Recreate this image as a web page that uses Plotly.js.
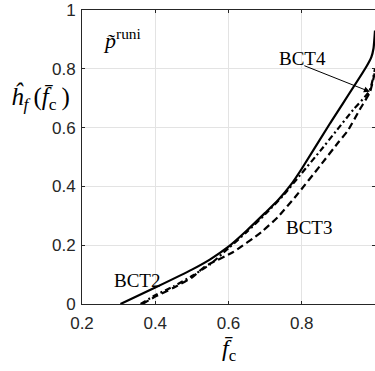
<!DOCTYPE html>
<html>
<head>
<meta charset="utf-8">
<script src="https://cdn.plot.ly/plotly-3.0.1.min.js"></script>
<style>html,body{margin:0;padding:0;background:#fff;}#chart{width:375px;height:371px;}</style>
</head>
<body>
<div id="chart"></div>
<script>
// BCT2 (solid)
const bct2F = [0.305, 0.4, 0.5, 0.55, 0.6, 0.65, 0.7, 0.735, 0.77, 0.8, 0.877, 0.973, 0.99, 0.996, 1.0];
const bct2H = [0.0, 0.056, 0.117, 0.152, 0.195, 0.25, 0.31, 0.353, 0.405, 0.46, 0.614, 0.8, 0.84, 0.87, 0.93];
// BCT3 (dashed)
const bct3F = [0.365, 0.4, 0.45, 0.5, 0.536, 0.612, 0.69, 0.735, 0.786, 0.85, 0.9, 0.926, 0.96, 0.986, 1.0];
const bct3H = [0.0, 0.025, 0.055, 0.09, 0.128, 0.176, 0.245, 0.296, 0.37, 0.47, 0.55, 0.59, 0.665, 0.72, 0.79];
// BCT4 (dash-dot)
const bct4F = [0.36, 0.4, 0.45, 0.5, 0.55, 0.6, 0.65, 0.7, 0.75, 0.8, 0.85, 0.895, 0.94, 0.985, 1.0];
const bct4H = [0.0, 0.03, 0.06, 0.095, 0.135, 0.19, 0.245, 0.305, 0.37, 0.445, 0.52, 0.59, 0.66, 0.725, 0.8];

const xTicks = [0.2, 0.4, 0.6, 0.8, 1];
const xTickText = ['0.2', '0.4', '0.6', '0.8', '1'];
const yTicks = [0, 0.2, 0.4, 0.6, 0.8, 1];
const yTickText = ['0', '0.2', '0.4', '0.6', '0.8', '1'];

const ink = '#262626';
const traces = [
  {x: bct2F, y: bct2H, mode: 'lines', line: {color: '#000', width: 2.2, shape: 'spline', smoothing: 0.5}},
  {x: bct3F, y: bct3H, mode: 'lines', line: {color: '#000', width: 2.2, dash: '7px,4px', shape: 'spline', smoothing: 0.5}},
  {x: bct4F, y: bct4H, mode: 'lines', line: {color: '#000', width: 2.2, dash: '6px,3px,2px,3px', shape: 'spline', smoothing: 0.5}}
];

const serif = 'Liberation Serif, Times New Roman, serif';
const axisCommon = {
  showline: true, linecolor: ink, linewidth: 1, mirror: 'ticks',
  ticks: 'inside', ticklen: 3, tickcolor: ink,
  showgrid: true, gridcolor: '#e3e3e3', gridwidth: 1,
  zeroline: false,
  tickfont: {family: 'Liberation Sans, Arial, sans-serif', size: 17, color: ink}
};

const layout = {
  width: 375, height: 371,
  margin: {l: 82, r: 0, t: 10, b: 67},
  paper_bgcolor: '#fff', plot_bgcolor: '#fff',
  showlegend: false,
  xaxis: Object.assign({}, axisCommon, {range: [0.2, 1], tickvals: xTicks, ticktext: xTickText, ticklabelstandoff: 4}),
  yaxis: Object.assign({}, axisCommon, {range: [0, 1], tickvals: yTicks, ticktext: yTickText, ticklabelstandoff: 2}),
  annotations: [
    {xref: 'x', yref: 'y', x: 0.986, y: 0.722, axref: 'x', ayref: 'y', ax: 0.803, ay: 0.8126,
     text: '', showarrow: true, arrowhead: 2, arrowsize: 1.2, arrowwidth: 1, arrowcolor: '#000'},
    {xref: 'x', yref: 'y', x: 0.803, y: 0.836, text: 'BCT4', showarrow: false,
     xanchor: 'center', yanchor: 'middle', font: {family: serif, size: 19, color: '#000'}},
    {xref: 'x', yref: 'y', x: 0.82, y: 0.26, text: 'BCT3', showarrow: false,
     xanchor: 'center', yanchor: 'middle', font: {family: serif, size: 19, color: '#000'}},
    {xref: 'x', yref: 'y', x: 0.35, y: 0.08, text: 'BCT2', showarrow: false,
     xanchor: 'center', yanchor: 'middle', font: {family: serif, size: 19, color: '#000'}},
    {xref: 'x', yref: 'y', x: 0.31, y: 0.9, text: '<i>p̃</i><sup>runi</sup>', showarrow: false,
     xanchor: 'center', yanchor: 'middle', font: {family: serif, size: 22, color: '#000'}},
    {xref: 'paper', yref: 'paper', x: -0.14, y: 0.70, text: '<i>ĥ</i><sub><i>f</i></sub>\u2009(<i>f̄</i><sub>c</sub>\u2009)', showarrow: false,
     xanchor: 'center', yanchor: 'middle', font: {family: serif, size: 25, color: '#000'}},
    {xref: 'paper', yref: 'paper', x: 0.5, y: -0.157, text: '<i>f̄</i><sub>c</sub>', showarrow: false,
     xanchor: 'center', yanchor: 'middle', font: {family: serif, size: 24, color: '#000'}}
  ]
};

Plotly.newPlot('chart', traces, layout, {staticPlot: true, displayModeBar: false});
</script>
</body>
</html>
